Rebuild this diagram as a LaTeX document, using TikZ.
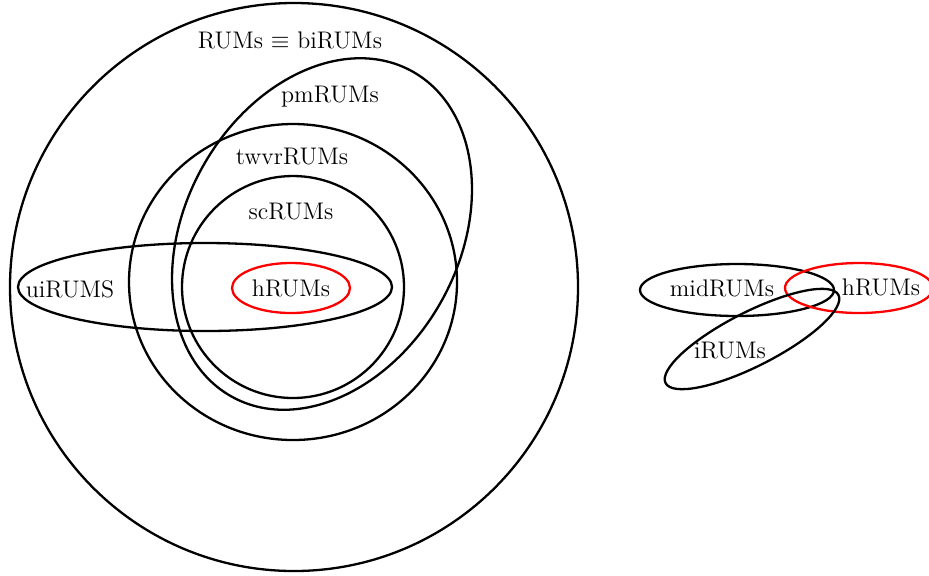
\documentclass[tikz,border=0pt]{standalone}
\usetikzlibrary{shapes.geometric}
\begin{document}
\begin{tikzpicture}[x=0.5pt,y=-0.5pt,
  set/.style={draw=black, ellipse, line width=1.15pt, inner sep=0pt},
  hset/.style={set, draw=red},
  lab/.style={font=\fontsize{12}{14}\selectfont, inner sep=0pt}]
\useasboundingbox (0,0) rectangle (929,575);
\clip (0,0) rectangle (929,575);
% left diagram
\node[set, minimum width=284pt, minimum height=284pt] (rums) at (294,287) {};
\node[set, minimum width=186pt, minimum height=137pt, rotate=61] (pm) at (322,234) {};
\node[set, minimum width=164pt, minimum height=158pt] (twvr) at (293,282) {};
\node[set, minimum width=111pt, minimum height=111pt] (sc) at (293,287) {};
\node[set, minimum width=187pt, minimum height=44pt] (ui) at (205,287) {};
\node[hset, minimum width=59pt, minimum height=25pt] (h1) at (291,288) {};
\node[lab] (lrums) at (290,40) {RUMs $\equiv$ biRUMs};
\node[lab] (lpm) at (330,97) {pmRUMs};
\node[lab] (ltwvr) at (292,157) {twvrRUMs};
\node[lab] (lsc) at (291,212) {scRUMs};
\node[lab] (lui) at (70,289) {uiRUMS};
\node[lab] (lh1) at (h1) {hRUMs};
% right diagram
\node[set, minimum width=97pt, minimum height=26pt] (mid) at (737,290) {};
\node[hset, minimum width=74pt, minimum height=25pt] (h2) at (859,288) {};
\node[set, minimum width=97pt, minimum height=27pt, rotate=27] (i) at (752,339) {};
\node[lab] (lmid) at (722,288) {midRUMs};
\node[lab] (lh2) at (881,287) {hRUMs};
\node[lab] (li) at (730,351) {iRUMs};
\end{tikzpicture}
\end{document}
